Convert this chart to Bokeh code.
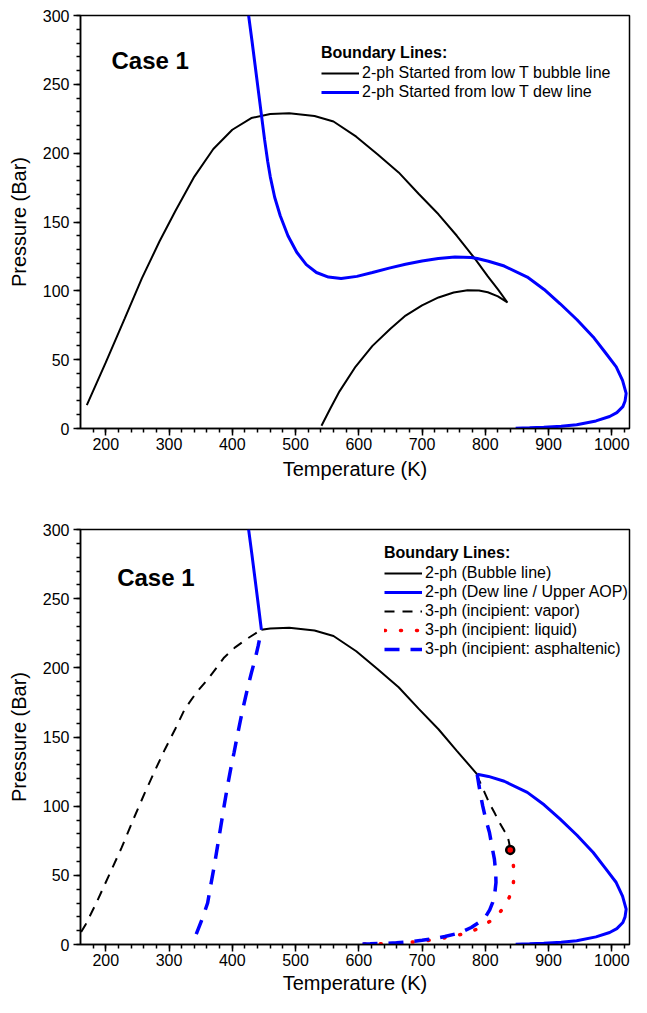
from bokeh.plotting import figure
from bokeh.layouts import column
from bokeh.models import Legend, LegendItem, Range1d, Label, FixedTicker
from bokeh.embed import file_html
from bokeh.resources import INLINE

# ---------------- data ----------------
x_ticks = [200, 300, 400, 500, 600, 700, 800, 900, 1000]
x_minor = list(range(180, 1021, 20))
y_ticks = [0, 50, 100, 150, 200, 250, 300]
y_minor = list(range(0, 301, 10))

# Top panel: bubble line started from low T (continuous curve with a cusp near 835 K)
bub_T = [170, 200, 230, 257, 285, 310, 340, 370, 400, 430, 460, 490, 530, 560, 596, 630, 663, 694.5, 726, 755, 783,
         804, 820, 835,
         820, 804, 790, 772, 750, 726, 700, 674, 650, 621.6, 595, 569.5, 555, 541]
bub_P = [17, 48, 80, 109, 136, 158, 183, 203, 217, 225.5, 228.5, 229, 227, 223, 212, 199, 186, 170.5, 155.6, 140, 123.7,
         110.5, 101, 91.5,
         96, 99, 100.3, 100.5, 98.8, 95.2, 89.5, 82, 72.5, 60, 45, 27, 14.5, 2]

# Top panel: dew line
dew_T = [425.8, 431, 436, 441, 446, 451, 456, 460, 467, 475.8, 488, 501.9, 517, 533, 552, 572, 597, 621.6, 648, 673.8,
         700, 725.8, 752, 777.8, 787.2, 805, 830, 866.4, 893, 918.4, 945, 970.6, 990, 1007, 1017, 1022.7, 1021,
         1017.5, 1008, 996.6, 975, 944.5, 920, 892.5, 870, 848]
dew_P = [300, 282, 264, 246, 228, 210, 194, 183, 168, 154.5, 140, 128, 119, 113.3, 110, 109, 110.5, 113.3, 116.5, 119.3,
         121.7, 123.5, 124.5, 124.2, 123.5, 121.5, 118, 110, 101, 90.6, 79, 66.5, 55, 44.8, 35, 25.5, 20,
         15.9, 11.5, 8.7, 5.5, 2.7, 1.6, 0.9, 0.5, 0.2]

# Bottom panel: 2-phase boundaries
b_bub_T = [446, 460, 490, 530, 560, 596, 630, 663, 694.5, 726, 755, 787.2]
b_bub_P = [227.5, 228.5, 229, 227, 223, 212, 199, 186, 170.5, 155.6, 140, 123]

dewup_T = [425.8, 431, 436, 441, 446]
dewup_P = [300, 282, 264, 246, 227.5]

dewlow_T = [787.2, 805, 830, 866.4, 893, 918.4, 945, 970.6, 990, 1007, 1017, 1022.7, 1021, 1017.5, 1008, 996.6, 975,
            944.5, 920, 892.5, 870, 848]
dewlow_P = [123, 121.5, 118, 110, 101, 90.6, 79, 66.5, 55, 44.8, 35, 25.5, 20, 15.9, 11.5, 8.7, 5.5,
            2.7, 1.6, 0.9, 0.5, 0.2]

# Bottom panel: 3-phase boundaries
vap1_T = [161, 168.4, 185, 205, 225, 245, 262, 278, 293.4, 310, 324.7, 343, 361.3, 375, 387.2, 405, 425, 446]
vap1_P = [9, 14.7, 30, 50, 70, 92, 110, 126, 141, 156, 170, 182, 191.8, 200, 207.5, 215, 221.5, 227.5]
vap2_T = [787.2, 788.3, 798.8, 806, 814.4, 822, 830, 835, 837.5, 839.4]
vap2_P = [123, 120.7, 110, 102.5, 95.4, 88.5, 82.2, 78.6, 74, 68.4]

liq_T = [839.4, 842.5, 844.5, 845, 844.5, 842, 837.8, 831, 822, 810, 796, 785, 772.7, 760, 746.6, 732, 718, 700, 680,
         660, 640, 618, 596]
liq_P = [68.4, 62, 56.9, 50, 44.8, 39, 34, 28, 22.6, 17.5, 13.5, 10.8, 8.7, 7.1, 5.8, 4.5, 3.4, 2.4, 1.6,
         1.0, 0.6, 0.35, 0.2]

asp1_T = [343, 352, 361, 366, 371.6, 377, 382, 387, 392.5, 397.5, 402.8, 408, 413.3, 418.5, 423.8, 430, 436.7, 441, 446]
asp1_P = [7.5, 18, 30, 43, 57, 72, 85.8, 100, 114.7, 127, 138.8, 151, 163, 174, 184.6, 196, 207.5, 216, 227.5]
asp2_T = [787.2, 790, 793, 796, 801, 806.6, 810.5, 814.4, 816.5, 816.9, 815, 811.7, 807, 801.3, 790, 777.8, 765, 751.9,
          736, 720.6, 700, 680, 660, 640, 618, 596]
asp2_P = [123, 115, 107, 100, 90, 81, 71, 61.7, 52, 44.8, 37, 30.4, 25, 20.7, 16, 12.3, 9.5, 7.5,
          5.8, 4.3, 3, 2, 1.3, 0.8, 0.5, 0.3]

crit_T = [839.4]
crit_P = [68.4]

FONT = "Liberation Sans"


def make_fig(height, btop, bbottom, label_standoff):
    p = figure(width=631, height=height, output_backend="svg", toolbar_location=None,
               x_range=Range1d(160, 1028), y_range=Range1d(0, 300),
               min_border_left=80, min_border_right=2, min_border_top=btop, min_border_bottom=bbottom)
    p.grid.visible = False
    p.outline_line_color = "black"
    p.outline_line_width = 1.5
    p.outline_line_alpha = 1
    p.xaxis.ticker = FixedTicker(ticks=x_ticks, minor_ticks=x_minor)
    p.yaxis.ticker = FixedTicker(ticks=y_ticks, minor_ticks=y_minor)
    for ax in (p.xaxis, p.yaxis):
        ax.axis_line_width = 1.5
        ax.major_tick_line_width = 1.5
        ax.minor_tick_line_width = 1.5
        ax.major_tick_in = 0
        ax.minor_tick_in = 0
        ax.major_tick_out = 7
        ax.minor_tick_out = 4
        ax.major_label_text_font = FONT
        ax.major_label_text_font_size = "16px"
        ax.major_label_text_color = "black"
        ax.axis_label_text_font = FONT
        ax.axis_label_text_font_size = "20px"
        ax.axis_label_text_font_style = "normal"
        ax.axis_label_text_color = "black"
    p.xaxis.major_label_standoff = 2
    p.yaxis.major_label_standoff = 4
    p.xaxis.axis_label = "Temperature (K)"
    p.yaxis.axis_label = "Pressure (Bar)"
    p.xaxis.axis_label_standoff = label_standoff
    p.yaxis.axis_label_standoff = 10
    return p


def style_legend(leg):
    leg.title_text_font = FONT
    leg.title_text_font_size = "16px"
    leg.title_text_font_style = "bold"
    leg.title_text_color = "black"
    leg.title_standoff = 2
    leg.label_text_font = FONT
    leg.label_text_font_size = "16px"
    leg.label_text_color = "black"
    leg.glyph_width = 38
    leg.glyph_height = 16
    leg.label_height = 16
    leg.label_standoff = 3
    leg.spacing = 1
    leg.padding = 0
    leg.margin = 0
    leg.border_line_alpha = 0
    leg.background_fill_alpha = 0


# ---------------- top panel ----------------
p1 = make_fig(497, 15, 69, 5)
r_bub = p1.line(bub_T, bub_P, line_color="black", line_width=2)
r_dew = p1.line(dew_T, dew_P, line_color="#0000ff", line_width=3)
p1.add_layout(Label(x=209, y=267, text="Case 1", text_font=FONT, text_font_size="24px",
                    text_font_style="bold", text_color="black", text_baseline="middle"))
leg1 = Legend(items=[LegendItem(label="2-ph Started from low T bubble line", renderers=[r_bub]),
                     LegendItem(label="2-ph Started from low T dew line", renderers=[r_dew])],
              title="Boundary Lines:", location=(241, 327))
style_legend(leg1)
p1.add_layout(leg1)

# ---------------- bottom panel ----------------
p2 = make_fig(500, 32, 53, 3)
r_b = p2.line(b_bub_T, b_bub_P, line_color="black", line_width=2)
r_d = p2.line(dewup_T, dewup_P, line_color="#0000ff", line_width=3)
p2.line(dewlow_T, dewlow_P, line_color="#0000ff", line_width=3)
r_v = p2.line(vap1_T, vap1_P, line_color="black", line_width=2, line_dash="10 8")
p2.line(vap2_T, vap2_P, line_color="black", line_width=2, line_dash="10 8")
r_l = p2.line(liq_T, liq_P, line_color="#ff0000", line_width=3.5, line_dash="1 15", line_cap="round")
r_a = p2.line(asp1_T, asp1_P, line_color="#0000ff", line_width=3.5, line_dash="15 11")
p2.line(asp2_T, asp2_P, line_color="#0000ff", line_width=3.5, line_dash="15 11")
p2.scatter(crit_T, crit_P, size=8, fill_color="#ff0000", line_color="black", line_width=2.5)
p2.add_layout(Label(x=218, y=265, text="Case 1", text_font=FONT, text_font_size="24px",
                    text_font_style="bold", text_color="black", text_baseline="middle"))
leg2 = Legend(items=[LegendItem(label="2-ph (Bubble line)", renderers=[r_b]),
                     LegendItem(label="2-ph (Dew line / Upper AOP)", renderers=[r_d]),
                     LegendItem(label="3-ph (incipient: vapor)", renderers=[r_v]),
                     LegendItem(label="3-ph (incipient: liquid)", renderers=[r_l]),
                     LegendItem(label="3-ph (incipient: asphaltenic)", renderers=[r_a])],
              title="Boundary Lines:", location=(304, 286))
style_legend(leg2)
p2.add_layout(leg2)

layout = column(p1, p2, spacing=0)
open("out.html", "w").write(file_html(layout, INLINE))
